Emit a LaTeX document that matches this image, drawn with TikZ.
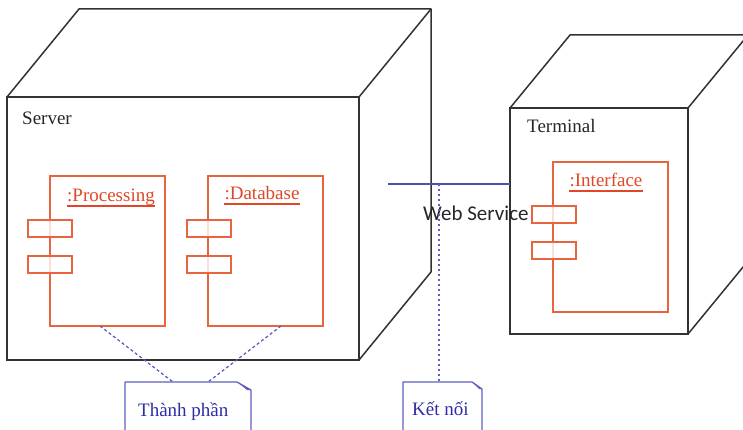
\documentclass[tikz,border=0pt]{standalone}
\usepackage{fontspec}
\setmainfont{Liberation Serif}
\newfontfamily\wsfont{Carlito}
\definecolor{edge}{RGB}{50,50,50}
\definecolor{comp}{RGB}{232,100,64}
\definecolor{comptext}{RGB}{222,72,40}
\definecolor{link}{RGB}{80,80,175}
\definecolor{notecol}{RGB}{95,95,195}
\definecolor{notetext}{RGB}{45,45,165}
\tikzset{
  face/.style={draw=edge, line width=1.5pt, minimum width=#1, inner sep=0, outer sep=0, anchor=north west},
  cubeedge/.style={draw=edge, line width=1.5pt, line join=round},
  compbox/.style={draw=comp, line width=1.3pt, minimum width=115pt, minimum height=150pt, inner sep=0, outer sep=0, anchor=north west},
  portbox/.style={draw=comp, line width=1.3pt, fill=white, fill opacity=0.8, minimum width=44pt, minimum height=17pt, inner sep=0, outer sep=0, anchor=north west},
  complabel/.style={text=comptext, font=\fontsize{19}{22}\selectfont, inner sep=0, anchor=base},
  nodelabel/.style={text=black!85, font=\fontsize{19}{22}\selectfont, inner sep=0, anchor=base west},
  ulinestyle/.style={draw=comptext, line width=1.1pt},
  notearea/.style={minimum height=62pt, inner sep=0, outer sep=0, anchor=north west},
  notebox/.style={draw=notecol, line width=1.3pt, line join=round},
  notelabel/.style={text=notetext, font=\fontsize{19}{22}\selectfont, inner sep=0, anchor=base west},
  tie/.style={draw=notecol, line width=1.3pt, dash pattern=on 3pt off 2.5pt},
  wire/.style={draw=link, line width=1.8pt}
}
\begin{document}
\begin{tikzpicture}[x=1pt, y=-1pt]
\useasboundingbox (0,0) rectangle (743,430);
\clip (0,0) rectangle (743,430);

% Server node (cube)
\node[face=352pt, minimum height=263pt] (srv) at (7,97) {};
\draw[cubeedge] (srv.north west) -- ++(72,-88) -- ++(352,0) coordinate (srvbk) -- ++(0,263) -- (srv.south east);
\draw[cubeedge] (srv.north east) -- (srvbk);
\node[nodelabel] (srvname) at (22,125) {Server};

% Terminal node (cube)
\node[face=178pt, minimum height=226pt] (trm) at (510,108) {};
\draw[cubeedge] (trm.north west) -- ++(60,-73) -- ++(178,0) coordinate (trmbk) -- ++(0,226) -- (trm.south east);
\draw[cubeedge] (trm.north east) -- (trmbk);
\node[nodelabel] (trmname) at (527,133) {Terminal};

% Components
\node[compbox] (proc) at (50,176) {};
\node[portbox] (procA) at (28,220) {};
\node[portbox] (procB) at (28,256) {};
\node[complabel] (proclbl) at (111,202) {:Processing};
\draw[ulinestyle] ([yshift=-4pt]proclbl.base west) -- ([yshift=-4pt]proclbl.base east);

\node[compbox] (db) at (208,176) {};
\node[portbox] (dbA) at (187,220) {};
\node[portbox] (dbB) at (187,256) {};
\node[complabel] (dblbl) at (262,200) {:Database};
\draw[ulinestyle] ([yshift=-4pt]dblbl.base west) -- ([yshift=-4pt]dblbl.base east);

\node[compbox] (ifc) at (553,162) {};
\node[portbox] (ifcA) at (532,206) {};
\node[portbox] (ifcB) at (532,242) {};
\node[complabel] (ifclbl) at (606,187) {:Interface};
\draw[ulinestyle] ([yshift=-4pt]ifclbl.base west) -- ([yshift=-4pt]ifclbl.base east);

% Web service link
\coordinate (wsend) at (388,184);
\draw[wire] (wsend) -- (wsend -| trm.west);
\coordinate (wstap) at (439,184);
\node[inner sep=0, anchor=base west, font=\wsfont\fontsize{21}{24}\selectfont, text=black!85] (wslbl) at (423,220) {Web Service};

% Notes
\node[notearea, minimum width=126pt] (tp) at (125,382) {};
\draw[notebox] (tp.south west) |- ([xshift=-14pt]tp.north east) -- ([yshift=-8pt]tp.north east) -- (tp.south east);
\fill[notecol] ([xshift=-14pt]tp.north east) -- ([yshift=-8pt]tp.north east) -- ([xshift=-4pt,yshift=-8pt]tp.north east) -- cycle;
\node[notelabel] (tptxt) at (138,416) {Thành phần};

\node[notearea, minimum width=79pt] (kn) at (403,382) {};
\draw[notebox] (kn.south west) |- ([xshift=-10pt]kn.north east) -- ([yshift=-7pt]kn.north east) -- (kn.south east);
\fill[notecol] ([xshift=-10pt]kn.north east) -- ([yshift=-7pt]kn.north east) -- ([xshift=-3pt,yshift=-7pt]kn.north east) -- cycle;
\node[notelabel] (kntxt) at (412,415) {Kết nối};

% Note ties
\draw[tie] ([xshift=-7.5pt]proc.south) -- ([xshift=-15pt]tp.north);
\draw[tie] ([xshift=15.5pt]db.south) -- ([xshift=20pt]tp.north);
\draw[tie, dash pattern=on 2pt off 3pt] (wstap) -- (wstap |- kn.north);
\end{tikzpicture}
\end{document}
